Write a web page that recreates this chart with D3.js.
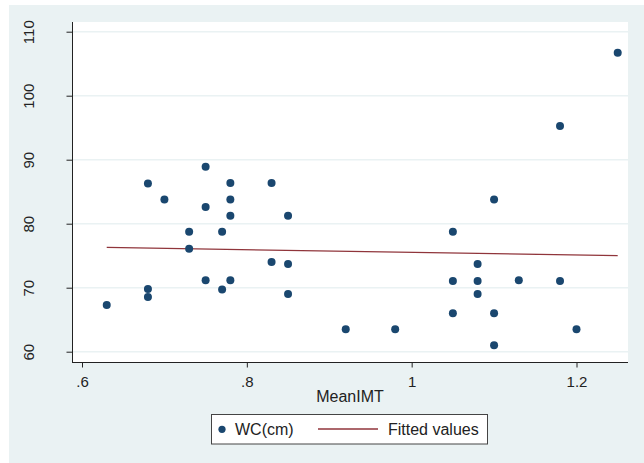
<!DOCTYPE html>
<html><head><meta charset="utf-8">
<script src="https://cdn.jsdelivr.net/npm/d3@7/dist/d3.min.js"></script>
<style>body{margin:0;background:#fff}svg{display:block;font-family:"Liberation Sans",Arial,sans-serif}</style>
</head><body>
<script>
// Data
const meanIMT = [0.63,0.68,0.68,0.68,0.70,0.73,0.73,0.75,0.75,0.75,0.77,0.77,0.78,0.78,0.78,0.78,0.83,0.83,0.85,0.85,0.85,0.92,0.98,1.05,1.05,1.05,1.08,1.08,1.08,1.10,1.10,1.10,1.13,1.18,1.18,1.20,1.25];
const wc      = [67.3,69.8,68.55,86.3,83.8,78.75,76.1,88.9,82.6,71.15,78.75,69.7,86.35,83.8,81.25,71.15,86.35,74.0,81.25,73.7,69.0,63.5,63.5,78.75,71.05,66.0,73.7,71.05,69.0,83.8,66.0,61.0,71.15,71.05,95.27,63.5,106.7];
const fitX = [0.63, 1.25];
const fitY = [76.3, 75.0];
const xTicks = [0.6, 0.8, 1.0, 1.2];
const xTickLabels = [".6", ".8", "1", "1.2"];
const yTicks = [60, 70, 80, 90, 100, 110];
const legendLabels = ["WC(cm)", "Fitted values"];

const W = 644, H = 463;
const svg = d3.select("body").append("svg").attr("width", W).attr("height", H);
const bg = "#eaf2f3", navy = "#1a476f", maroon = "#90353b";

svg.append("rect").attr("x",9).attr("y",5).attr("width",W-9).attr("height",H-5).attr("fill",bg);

const L = 72, R = 628, T = 22, B = 362;
svg.append("rect").attr("x",L).attr("y",T).attr("width",R-L).attr("height",B-T).attr("fill","#fff");

const x = d3.scaleLinear().domain([0.6, 1.2]).range([82, 576.5]);
const y = d3.scaleLinear().domain([60, 110]).range([351.7, 31.7]);

// gridlines
svg.append("g").selectAll("line").data(yTicks).join("line")
  .attr("x1",L).attr("x2",R).attr("y1",d=>y(d)).attr("y2",d=>y(d))
  .attr("stroke",bg).attr("stroke-width",1.5);

// axes
const yAxis = d3.axisLeft(y).tickValues(yTicks).tickSize(5.5).tickPadding(0).tickFormat(d3.format("d"));
const gy = svg.append("g").attr("transform",`translate(${L},0)`).call(yAxis);
gy.select(".domain").attr("d",`M0.5,${T}V${B}`).attr("stroke","#222");
gy.selectAll(".tick line").attr("stroke","#222");
gy.selectAll(".tick text").attr("x",null).attr("dy",null)
  .attr("transform","translate(-38.5,0) rotate(-90)")
  .attr("text-anchor","middle").attr("fill","#222").attr("font-size",15)
  .attr("font-family","Liberation Sans, Arial, sans-serif");

const xAxis = d3.axisBottom(x).tickValues(xTicks).tickSize(5.5).tickPadding(0)
  .tickFormat((d,i)=>xTickLabels[i]);
const gx = svg.append("g").attr("transform",`translate(0,${B})`).call(xAxis);
gx.select(".domain").attr("d",`M${L},0.5H${R}`).attr("stroke","#222");
gx.selectAll(".tick line").attr("stroke","#222");
gx.selectAll(".tick text").attr("y",25).attr("dy",null).attr("fill","#222").attr("font-size",15)
  .attr("font-family","Liberation Sans, Arial, sans-serif");

svg.append("text").attr("x",(L+R)/2).attr("y",402.3).attr("text-anchor","middle")
  .attr("font-size",16).attr("fill","#222").text("MeanIMT");

// fitted line
const fitData = fitX.map((d,i)=>[d, fitY[i]]);
svg.append("path").datum(fitData)
  .attr("d", d3.line().x(d=>x(d[0])).y(d=>y(d[1])))
  .attr("stroke",maroon).attr("stroke-width",1.3).attr("fill","none");

// points
svg.append("g").selectAll("circle").data(meanIMT.map((d,i)=>[d, wc[i]])).join("circle")
  .attr("cx",d=>x(d[0])).attr("cy",d=>y(d[1])).attr("r",4).attr("fill",navy);

// legend
const lg = svg.append("g");
lg.append("rect").attr("x",211.5).attr("y",414.5).attr("width",276).attr("height",29.5)
  .attr("fill","#fff").attr("stroke","#444").attr("stroke-width",1);
lg.append("circle").attr("cx",222).attr("cy",429.3).attr("r",3.6).attr("fill",navy);
lg.append("text").attr("x",235).attr("y",435).attr("font-size",16).attr("fill","#222").text(legendLabels[0]);
lg.append("line").attr("x1",318).attr("x2",378).attr("y1",429).attr("y2",429).attr("stroke",maroon).attr("stroke-width",1.3);
lg.append("text").attr("x",388).attr("y",435).attr("font-size",16).attr("fill","#222").text(legendLabels[1]);
</script>
</body></html>
